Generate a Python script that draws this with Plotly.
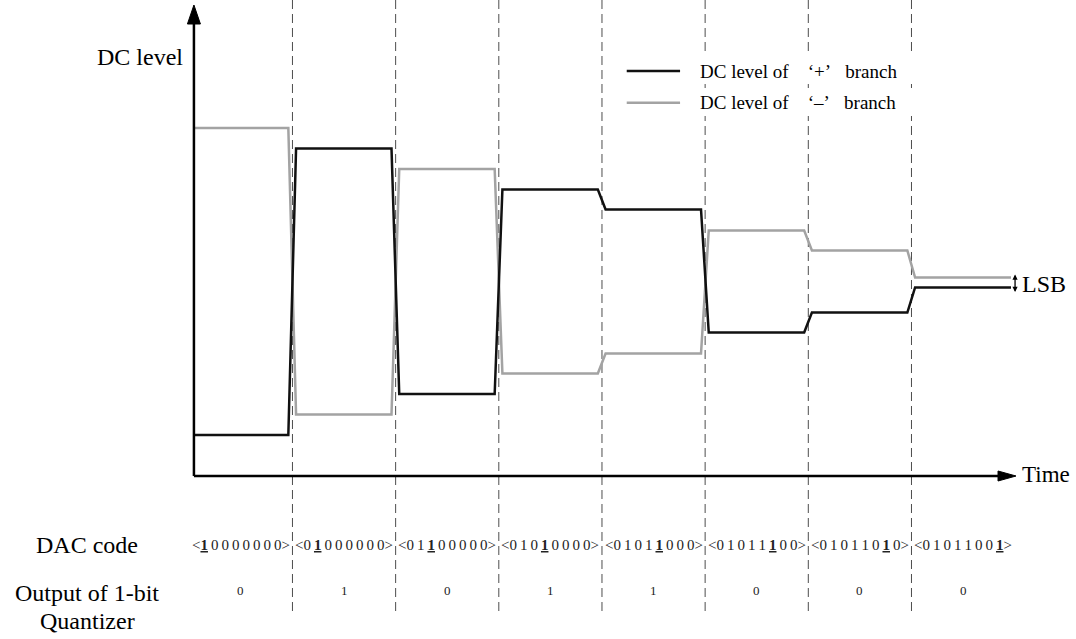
import plotly.graph_objects as go

# ---------------- data ----------------
decision_times = [1, 2, 3, 4, 5, 6, 7]            # clock edges (dashed lines), in clock periods
plus_levels = [-15.35, 13.3, -11.25, 9.2, 7.2, -5.1, -3.1, -0.6]    # DC level of '+' branch
minus_levels = [15.35, -13.3, 11.25, -9.2, -7.2, 5.1, 3.1, 0.4]     # DC level of '-' branch
dac_codes = ["10000000", "01000000", "01100000", "01010000",
             "01011000", "01011100", "01011010", "01011001"]
tested_bit = [0, 1, 2, 3, 4, 5, 6, 7]
quantizer_out = ["0", "1", "0", "1", "1", "0", "0", "0"]
series_names = ["DC level of \u2018+\u2019 branch", "DC level of \u2018\u2013\u2019 branch"]

# ---------------- style / geometry ----------------
FONT = "Liberation Serif, Times New Roman, serif"
T_ORIGIN = 0.045
T_END = 7.965
RISE_BEFORE = 0.04
RISE_AFTER = 0.035
L_ORIGIN = -19.45
X_RANGE = [-1.8347, 8.5947]
Y_RANGE = [-35.75, 28.15]
BLACK = "#111111"
GRAY = "#a3a3a3"


def build_path(levels):
    xs, ys = [], []
    n = len(levels)
    for k, lv in enumerate(levels):
        start = T_ORIGIN if k == 0 else decision_times[k - 1] + RISE_AFTER
        end = T_END if k == n - 1 else decision_times[k] - RISE_BEFORE
        xs += [start, end]
        ys += [lv, lv]
    return xs, ys


fig = go.Figure()
for levels, color, name in [(minus_levels, GRAY, series_names[1]),
                            (plus_levels, BLACK, series_names[0])]:
    xs, ys = build_path(levels)
    fig.add_trace(go.Scatter(x=xs, y=ys, mode="lines", name=name,
                             line=dict(color=color, width=2.5), hoverinfo="skip"))

shapes = []
# dashed clock lines
for t in decision_times:
    shapes.append(dict(type="line", xref="x", yref="y", x0=t, x1=t, y0=Y_RANGE[1], y1=-33.45,
                       line=dict(color="#4d4d4d", width=1, dash="9px,5px"), layer="below"))
# white boxes behind legend text
for y0, y1 in [(19.85, 22.65), (16.55, 19.35)]:
    shapes.append(dict(type="rect", xref="x", yref="y", x0=4.126, x1=7.228, y0=y0, y1=y1,
                       fillcolor="white", line=dict(width=0), layer="below"))
# axes
shapes.append(dict(type="line", xref="x", yref="y", x0=T_ORIGIN, x1=T_ORIGIN, y0=L_ORIGIN, y1=25.9,
                   line=dict(color="black", width=2.5)))
shapes.append(dict(type="path", xref="x", yref="y",
                   path=f"M {T_ORIGIN},27.65 L {T_ORIGIN-0.063},25.75 L {T_ORIGIN+0.063},25.75 Z",
                   fillcolor="black", line=dict(color="black", width=1)))
shapes.append(dict(type="line", xref="x", yref="y", x0=T_ORIGIN, x1=7.85, y0=L_ORIGIN, y1=L_ORIGIN,
                   line=dict(color="black", width=2.5)))
shapes.append(dict(type="path", xref="x", yref="y",
                   path=f"M 8.013,{L_ORIGIN} L 7.839,{L_ORIGIN+0.5} L 7.839,{L_ORIGIN-0.5} Z",
                   fillcolor="black", line=dict(color="black", width=1)))
# legend samples
for y, color in [(21.05, BLACK), (17.88, GRAY)]:
    shapes.append(dict(type="line", xref="x", yref="y", x0=4.24, x1=4.757, y0=y, y1=y,
                       line=dict(color=color, width=2.5)))

ann = []
NB = "\u00a0"
legend_texts = [n.replace(" \u2018", NB * 4 + "\u2018").replace("\u2019 ", "\u2019" + NB * 3)
                for n in series_names]
for y, txt in [(21.05, legend_texts[0]), (17.88, legend_texts[1])]:
    ann.append(dict(x=4.93, y=y, text=txt, xanchor="left", yanchor="middle",
                    font=dict(family=FONT, size=19, color="black")))

ann.append(dict(x=-0.04, y=22.5, text="DC level", xanchor="right", yanchor="middle",
                font=dict(family=FONT, size=24, color="black")))
ann.append(dict(x=8.05, y=-19.25, text="Time", xanchor="left", yanchor="middle",
                font=dict(family=FONT, size=23, color="black")))
ann.append(dict(x=8.055, y=-0.25, text="LSB", xanchor="left", yanchor="middle",
                font=dict(family=FONT, size=24, color="black")))
# LSB double arrow
lsb_x = 8.004
ann.append(dict(x=lsb_x, y=plus_levels[-1] - 0.45, ax=lsb_x, ay=minus_levels[-1] + 0.45,
                xref="x", yref="y", axref="x", ayref="y", text="", showarrow=True,
                arrowhead=2, startarrowhead=2, arrowside="end+start", arrowsize=0.8,
                arrowwidth=1.3, arrowcolor="black", standoff=0, startstandoff=0))

for txt, y in [("DAC code", -26.35), ("Output of 1-bit", -31.15), ("Quantizer", -33.95)]:
    ann.append(dict(x=-0.987, y=y, text=txt, xanchor="center", yanchor="middle",
                    font=dict(family=FONT, size=24, color="black")))

TS = "\u2009"
for k, code in enumerate(dac_codes):
    digits = []
    for i, c in enumerate(code):
        digits.append(f"<b><u>{c}</u></b>" if i == tested_bit[k] else c)
    label = "&lt;" + TS.join(digits) + "&gt;"
    ann.append(dict(x=k + 0.5, y=-26.35, text=label, xanchor="center", yanchor="middle",
                    font=dict(family=FONT, size=15, color="#222222")))
    ann.append(dict(x=k + 0.5, y=-30.85, text=quantizer_out[k], xanchor="center", yanchor="middle",
                    font=dict(family=FONT, size=13, color="#222222")))

for a in ann:
    a.setdefault("showarrow", False)
    a.setdefault("xref", "x")
    a.setdefault("yref", "y")

fig.update_layout(
    width=1076, height=639,
    margin=dict(l=0, r=0, t=0, b=0),
    paper_bgcolor="white", plot_bgcolor="white",
    showlegend=False,
    xaxis=dict(visible=False, range=X_RANGE, fixedrange=True),
    yaxis=dict(visible=False, range=Y_RANGE, fixedrange=True),
    shapes=shapes, annotations=ann,
)
fig.write_html("out.html", config={"displayModeBar": False},
               post_script="document.body.style.margin='0';document.body.style.overflow='hidden';")
